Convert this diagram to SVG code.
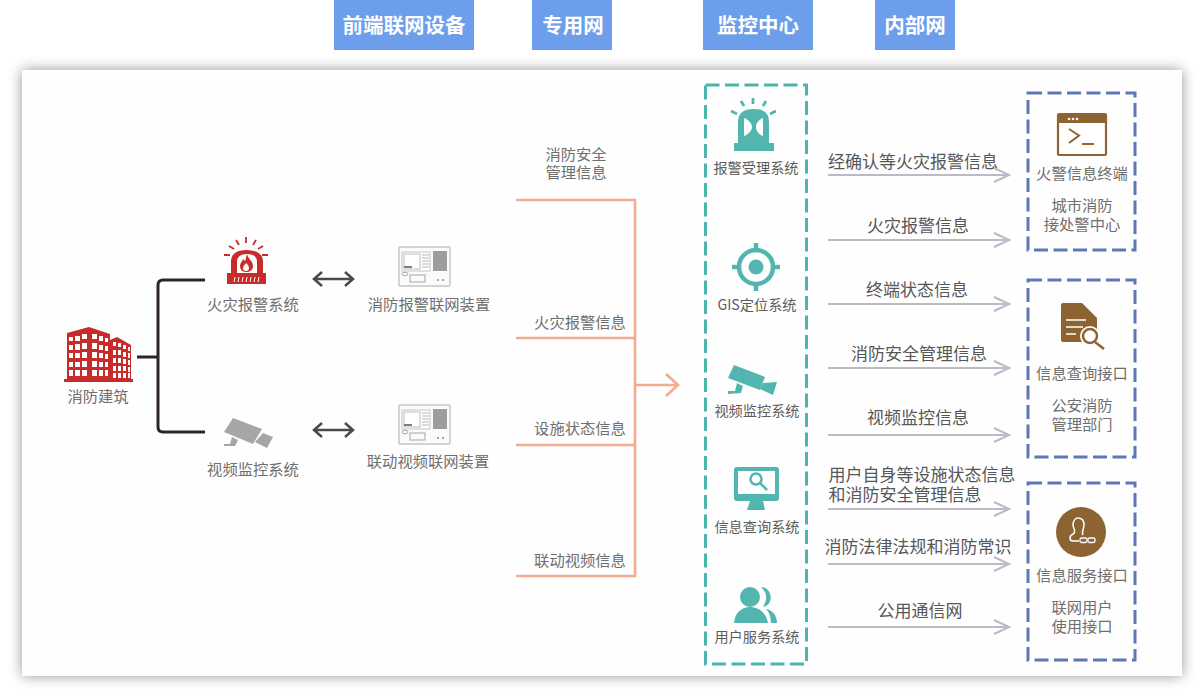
<svg xmlns="http://www.w3.org/2000/svg" width="1204" height="698" viewBox="0 0 1204 698">
<defs>
<filter id="sh" x="-5%" y="-8%" width="110%" height="116%"><feGaussianBlur stdDeviation="7"/></filter>
<marker id="ga" markerUnits="userSpaceOnUse" markerWidth="18" markerHeight="18" refX="16" refY="9" orient="auto"><path d="M1 2L16 9L1 16" fill="none" stroke="#bdb9c6" stroke-width="2"/></marker>
<marker id="oa" markerUnits="userSpaceOnUse" markerWidth="20" markerHeight="26" refX="18" refY="13" orient="auto"><path d="M6 2L18 13L6 24" fill="none" stroke="#f4ab8f" stroke-width="2.600"/></marker>
<g id="dev">
<rect x="399" y="247" width="51" height="39" rx="1" fill="#fbfbfb" stroke="#c6c6c6" stroke-width="1.500"/>
<rect x="402" y="252" width="28" height="19" fill="#fff" stroke="#c4c4c4"/><rect x="404" y="254" width="16" height="15" fill="#fff" stroke="#bdbdbd"/>
<path d="M422 255h7M422 258h7M422 261h7M422 264h7M422 267h7" stroke="#b5b5b5"/><path d="M404 267h8" stroke="#555" stroke-width="1.500"/>
<rect x="433" y="251" width="14" height="20" fill="#9d9d9d"/>
<ellipse cx="405" cy="274" rx="3" ry="1.800" fill="none" stroke="#aaa"/><rect x="410" y="275" width="15" height="7" fill="none" stroke="#a5a5a5"/>
<circle cx="438" cy="280" r="1" fill="#888"/><circle cx="443" cy="280" r="1" fill="#888"/>
</g>
</defs>
<style>
text{font-family:"Noto Sans CJK SC","Liberation Sans",sans-serif;text-anchor:middle}
.h{fill:#6d9eeb}.ht{fill:#fff;font-size:20.500px;font-weight:700}
.g{fill:#6f6f6f;font-size:15.300px}.f{fill:#575757;font-size:17px}.m{fill:#5c5c5c;font-size:14.200px}
.t{fill:#53b5b0}.b{fill:#8d6331}.r{fill:#c82c2a}
.dt{fill:none;stroke:#4db4ad;stroke-width:3;stroke-dasharray:14 5.500}
.db{fill:none;stroke:#5d78b8;stroke-width:3;stroke-dasharray:14 5.500}
.k{fill:none;stroke:#2e2426;stroke-width:3}
.o{fill:none;stroke:#f4ab8f;stroke-width:2.600}
.a{fill:none;stroke:#bdb9c6;stroke-width:2;marker-end:url(#ga)}
.d{fill:none;stroke:#4a4a4a;stroke-width:2.500}
</style>
<rect width="1204" height="698" fill="#fff"/>
<g id="headers">
<rect class="h" x="334" y="0" width="140" height="50"/><text class="ht" x="404" y="33">前端联网设备</text>
<rect class="h" x="532" y="0" width="80" height="50"/><text class="ht" x="573" y="33">专用网</text>
<rect class="h" x="703" y="0" width="110" height="50"/><text class="ht" x="758" y="33">监控中心</text>
<rect class="h" x="875" y="0" width="80" height="50"/><text class="ht" x="915" y="33">内部网</text>
</g>
<rect x="22" y="70" width="1160" height="606" fill="#000" opacity=".42" filter="url(#sh)"/>
<rect id="panel" x="22" y="70" width="1160" height="606" fill="#fefefe"/>
<g id="connectors">
<path class="k" d="M137 357H158M205 280H163Q158 280 158 285V427Q158 432 163 432H205"/>
<path class="d" d="M322 272L314 279L322 286M314 279H353M345 272L353 279L345 286"/>
<path class="d" d="M322 423L314 430L322 437M314 430H353M345 423L353 430L345 437"/>
<path class="o" d="M516 200H635V576H516M516 338H635M516 445H635"/>
<path class="o" d="M635 385H678" marker-end="url(#oa)"/>
<path class="a" d="M828 175H1009"/><path class="a" d="M828 240H1009"/><path class="a" d="M828 304H1009"/>
<path class="a" d="M828 368H1009"/><path class="a" d="M828 435H1009"/><path class="a" d="M828 509H1009"/>
<path class="a" d="M828 564H1009"/><path class="a" d="M828 627H1009"/>
</g>
<g id="building">
<path class="r" d="M67 379V333L89 327L110 334V379ZM110 379V340L117 337L131 345V379Z"/>
<rect class="r" x="64" y="379" width="69" height="3"/>
<g fill="#fff"><path d="M69 337h4v4h-4zM75 336h5v5h-5zM82 334h5v5h-5zM92 334h5v5h-5zM99 336h4v5h-4zM105 338h3v4h-3zM113 342h3v4h-3zM118 343h3v4h-3zM123 345h3v4h-3zM128 347h2v4h-2zM69 345h4v5h-4zM75 344h5v6h-5zM82 343h5v6h-5zM92 343h5v6h-5zM99 345h4v5h-4zM105 346h3v5h-3zM113 350h3v5h-3zM118 350h3v5h-3zM123 352h3v5h-3zM128 353h2v5h-2zM69 353h4v5h-4zM75 353h5v5h-5zM82 352h5v6h-5zM92 352h5v6h-5zM99 353h4v5h-4zM105 354h3v5h-3zM113 358h3v5h-3zM118 358h3v5h-3zM123 359h3v5h-3zM128 360h2v5h-2zM69 362h4v5h-4zM75 362h5v5h-5zM82 361h5v6h-5zM92 361h5v6h-5zM99 362h4v5h-4zM105 362h3v5h-3zM113 366h3v5h-3zM118 366h3v5h-3zM123 366h3v5h-3zM128 367h2v5h-2zM69 370h4v6h-4zM75 370h5v6h-5zM82 370h5v6h-5zM92 370h5v6h-5zM99 370h4v6h-4zM105 370h3v6h-3zM113 373h3v5h-3zM118 373h3v5h-3zM123 373h3v5h-3zM128 373h2v5h-2z"/></g>
<text class="g" x="98" y="402">消防建筑</text></g>
<g id="fire-alarm">
<path class="r" d="M231 273V262Q231 250 246 250Q263 250 263 262V273H266V284H227V273Z"/>
<path fill="#fff" d="M237 273V262Q237 254 247 254Q257 254 257 262V273Z"/>
<path class="r" d="M247 254C248 259 253 261 253 266C253 270 250 272 246 272C242 272 240 269 240 266C240 263 242 262 243 259C244 260 245 261 245 261C246 259 246 257 247 254Z"/>
<path fill="#fff" d="M246 263C248 265 249 266 249 268C249 270 248 271 246 271C244 271 243 270 243 268C243 266 245 265 246 263Z"/>
<path d="M246 237v6M236 240l3 5M256 240l-3 5M229 246l5 3M263 246l-5 3M224 255h6M268 255h-6" stroke="#c82c2a" stroke-width="1.800" fill="none"/>
<path d="M234 282l1-5M238 282l1-5M242 282l1-5M246 282l1-5M250 282l1-5M254 282l1-5M258 282l1-5" stroke="#fff" fill="none"/>
<text class="g" x="253" y="310">火灾报警系统</text></g>
<g id="video">
<path d="M233 418L262 429L253 444L224 432Z" fill="#a6a6a6"/><path d="M263 433L273 437L267 448L255 442Z" fill="#a6a6a6"/>
<path d="M224 446V444H230L232 437L238 440L235 446Z" fill="#a6a6a6"/>
<text class="g" x="253" y="475">视频监控系统</text></g>
<g id="device1"><use href="#dev"/><text class="g" x="429" y="310">消防报警联网装置</text></g>
<g id="device2"><use href="#dev" y="158"/><text class="g" x="428" y="467">联动视频联网装置</text></g>
<g id="channel-labels">
<text class="g" x="576" y="160">消防安全</text><text class="g" x="576" y="178">管理信息</text>
<text class="g" x="580" y="328">火灾报警信息</text><text class="g" x="580" y="434">设施状态信息</text><text class="g" x="580" y="566">联动视频信息</text>
</g>
<g id="monitor-center"><rect class="dt" x="705.500" y="85" width="101" height="579"/></g>
<g id="s1">
<path class="t" d="M738 143V122Q738 109 754 109Q769 109 769 122V143H774V151H734V143Z"/><path fill="#fff" d="M744 118C749 120 752 124 752 127C752 130 749 134 744 136ZM763 118C758 120 756 124 756 127C756 130 758 134 763 136Z"/>
<path d="M753 98v6M741 101l3 5M766 101l-3 5M731 111l6 3M776 111l-6 3" stroke="#53b5b0" stroke-width="2.800" fill="none"/>
<text class="m" x="756" y="173">报警受理系统</text></g>
<g id="s2">
<circle cx="756" cy="267" r="17" fill="none" stroke="#53b5b0" stroke-width="4.500"/><circle class="t" cx="756" cy="267" r="7.500"/>
<path d="M756 243v7M756 284v7M732 267h7M773 267h7" stroke="#53b5b0" stroke-width="4.500"/>
<text class="m" x="757" y="310">GIS定位系统</text></g>
<g id="s3">
<path class="t" d="M734 365L765 377L760 390L728 378Z"/><path class="t" d="M763 383L777 382L773 395L760 389Z"/><path class="t" d="M728 394V391H735L737 383L743 386L741 393Z"/>
<text class="m" x="757" y="416">视频监控系统</text></g>
<g id="s4">
<rect x="734" y="467" width="45" height="34" rx="3" fill="#53b5b0"/><rect x="738" y="471" width="37" height="23" fill="#fff"/>
<circle cx="756" cy="479" r="5.500" fill="none" stroke="#53b5b0" stroke-width="2.500"/><path d="M760 483L767 490" stroke="#53b5b0" stroke-width="2.500"/>
<path class="t" d="M750 501H763L765 510H747Z"/>
<text class="m" x="757" y="532">信息查询系统</text></g>
<g id="s5">
<circle class="t" cx="750" cy="597" r="10"/><path class="t" d="M734 623C735 612 742 607 750 607C758 607 766 612 768 623Z"/>
<path class="t" d="M761 587C772 587 775 605 763 607C768 598 767 593 761 587ZM766 609C773 610 777 616 777 623H771C771 617 769 612 766 609Z"/>
<text class="m" x="757" y="642">用户服务系统</text></g>
<g id="flow-labels">
<text class="f" x="913" y="168">经确认等火灾报警信息</text><text class="f" x="918" y="232">火灾报警信息</text>
<text class="f" x="917" y="296">终端状态信息</text><text class="f" x="919" y="360">消防安全管理信息</text>
<text class="f" x="918" y="424">视频监控信息</text><text class="f" x="922" y="481">用户自身等设施状态信息</text>
<text class="f" x="905" y="501">和消防安全管理信息</text><text class="f" x="918" y="553">消防法律法规和消防常识</text>
<text class="f" x="920" y="617">公用通信网</text>
</g>
<g id="fire-terminal"><rect class="db" x="1028" y="93" width="107" height="157"/>
<rect x="1058" y="114" width="48" height="41" rx="1" fill="#fff" stroke="#8d6331" stroke-width="2.200"/><rect class="b" x="1058" y="114" width="48" height="9"/>
<circle cx="1069" cy="119" r="1.300" fill="#fff"/><circle cx="1073" cy="119" r="1.300" fill="#fff"/><circle cx="1077" cy="119" r="1.300" fill="#fff"/>
<path d="M1069 129L1079 135.500L1069 143M1082 144H1094" fill="none" stroke="#8d6331" stroke-width="2"/>
<text class="g" x="1082" y="179">火警信息终端</text><text class="g" x="1082" y="211">城市消防</text><text class="g" x="1082" y="230">接处警中心</text></g>
<g id="query-port"><rect class="db" x="1028" y="280" width="107" height="177"/>
<path class="b" d="M1063 303H1082L1097 318V342H1063Q1061 342 1061 340V305Q1061 303 1063 303Z"/>
<path d="M1066 320H1086M1066 327H1083M1066 334H1076" stroke="#fff" stroke-width="1.500" fill="none"/>
<circle cx="1090" cy="336" r="8" fill="#fff" stroke="#fff" stroke-width="4"/>
<circle cx="1090" cy="336" r="7" fill="#fff" stroke="#8d6331" stroke-width="2.500"/><path d="M1095 342L1104 349" stroke="#8d6331" stroke-width="2.500"/>
<text class="g" x="1082" y="379">信息查询接口</text><text class="g" x="1082" y="411">公安消防</text><text class="g" x="1082" y="430">管理部门</text></g>
<g id="service-port"><rect class="db" x="1028" y="483" width="107" height="177"/>
<circle class="b" cx="1081" cy="532" r="25"/>
<path d="M1079 541H1073C1069 541 1069 536 1073 534C1077 532 1073 528 1073 525C1073 520 1076 518 1078 518C1082 518 1084 521 1084 525C1084 529 1081 532 1083 535" fill="none" stroke="#fff" stroke-width="1.500"/>
<rect x="1080" y="538" width="7" height="4.500" rx="1.500" fill="none" stroke="#fff" stroke-width="1.300"/><rect x="1088" y="538" width="7" height="4.500" rx="1.500" fill="none" stroke="#fff" stroke-width="1.300"/>
<text class="g" x="1082" y="581">信息服务接口</text><text class="g" x="1082" y="613">联网用户</text><text class="g" x="1082" y="632">使用接口</text></g>
</svg>
